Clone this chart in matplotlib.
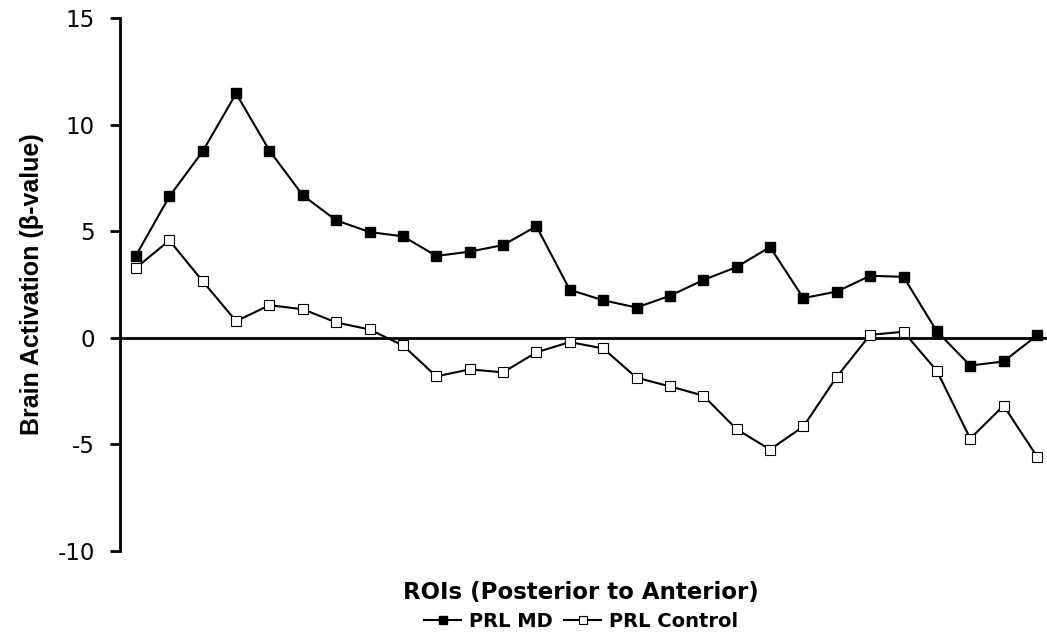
import matplotlib
matplotlib.use("Agg")
import matplotlib.pyplot as plt
import numpy as np

plt.rcParams.update({
    "font.family": ["Liberation Sans", "DejaVu Sans"],
    "axes.unicode_minus": False,
    "figure.facecolor": "white",
    "axes.facecolor": "white",
})

# 28 ROIs, posterior -> anterior
prl_md = [3.86, 6.63, 8.75, 11.46, 8.78, 6.68, 5.51, 4.96, 4.76, 3.84,
          4.04, 4.35, 5.23, 2.25, 1.76, 1.42, 1.97, 2.71, 3.32, 4.26,
          1.86, 2.17, 2.91, 2.86, 0.30, -1.30, -1.11, 0.11]
prl_control = [3.28, 4.57, 2.65, 0.78, 1.53, 1.34, 0.72, 0.39, -0.36, -1.81,
               -1.48, -1.62, -0.68, -0.20, -0.50, -1.87, -2.28, -2.71, -4.29, -5.24,
               -4.16, -1.83, 0.14, 0.28, -1.55, -4.73, -3.18, -5.57]
y_ticks = [-10, -5, 0, 5, 10, 15]

# the original text is drawn a bit wide, DejaVu gets closer to that
WIDE = "DejaVu Sans"

fig = plt.figure(figsize=(10.47, 6.34), dpi=100)
ax = fig.add_axes([0.1146, 0.1309, 0.8854, 0.8407])

x = np.arange(len(prl_md))
ax.axhline(0, color="black", linewidth=2, zorder=1)
ax.plot(x, prl_md, color="black", linewidth=1.5, marker="s", markersize=7,
        markerfacecolor="black", markeredgecolor="black", label="PRL MD", zorder=3)
ax.plot(x, prl_control, color="black", linewidth=1.5, marker="s", markersize=7,
        markerfacecolor="white", markeredgecolor="black", markeredgewidth=0.8,
        label="PRL Control", zorder=3)

ax.set_xlim(-0.48, 27.3)
ax.set_ylim(-10, 15)
ax.set_yticks(y_ticks)
ax.set_xticks([])
for side in ("top", "right", "bottom"):
    ax.spines[side].set_visible(False)
ax.spines["left"].set_linewidth(2)
ax.tick_params(axis="y", direction="out", length=7, width=2, pad=11)
for lbl in ax.get_yticklabels():
    lbl.set_fontfamily(WIDE)
    lbl.set_fontsize(16.5)

ax.set_ylabel("Brain Activation (β-value)", fontsize=18, fontweight="bold", labelpad=10)
fig.text(0.555, 0.066, "ROIs (Posterior to Anterior)", ha="center", va="center",
         fontsize=16.5, fontweight="bold", family=WIDE)

leg = fig.legend(loc="center", bbox_to_anchor=(0.555, 0.02), ncol=2, frameon=False,
                 prop={"weight": "bold", "size": 14, "family": WIDE},
                 handlelength=1.9, columnspacing=0.6, handletextpad=0.4, markerscale=0.75)

fig.savefig("out.png", dpi=100)
